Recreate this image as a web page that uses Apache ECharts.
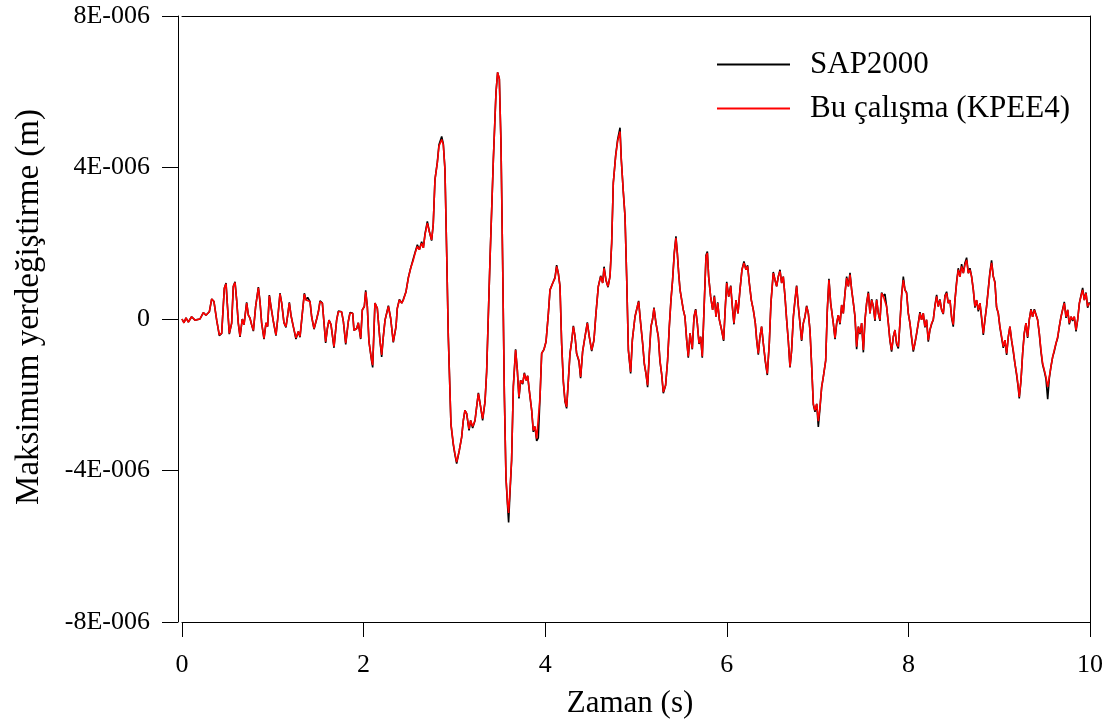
<!DOCTYPE html>
<html>
<head>
<meta charset="utf-8">
<script src="https://cdn.jsdelivr.net/npm/echarts@6/dist/echarts.min.js"></script>
<style>
html,body{margin:0;padding:0;background:#fff;}
#chart{width:1111px;height:724px;}
</style>
</head>
<body>
<div id="chart"></div>
<script>
// Time (s)
const time = [
0.000,0.022,0.044,0.070,0.106,0.143,0.198,0.235,0.264,0.301,
0.327,0.352,0.382,0.411,0.437,0.466,0.485,0.499,0.521,0.547,
0.565,0.584,0.602,0.620,0.639,0.664,0.683,0.712,0.731,0.749,
0.767,0.786,0.811,0.841,0.859,0.877,0.903,0.925,0.943,0.962,
0.980,1.006,1.035,1.054,1.079,1.098,1.123,1.145,1.164,1.182,
1.200,1.226,1.255,1.281,1.300,1.325,1.347,1.366,1.384,1.410,
1.428,1.454,1.483,1.502,1.520,1.546,1.564,1.582,1.601,1.619,
1.641,1.674,1.703,1.722,1.758,1.777,1.803,1.832,1.850,1.880,
1.894,1.924,1.942,1.968,1.986,2.008,2.023,2.041,2.059,2.089,
2.100,2.125,2.151,2.180,2.199,2.217,2.236,2.254,2.273,2.298,
2.327,2.357,2.371,2.394,2.420,2.438,2.467,2.493,2.518,2.548,
2.566,2.592,2.614,2.639,2.658,2.676,2.702,2.724,2.749,2.767,
2.786,2.812,2.830,2.860,2.878,2.896,2.915,2.933,2.962,2.988,
3.006,3.025,3.054,3.080,3.098,3.116,3.135,3.161,3.179,3.201,
3.227,3.245,3.264,3.289,3.311,3.337,3.355,3.392,3.429,3.458,
3.476,3.495,3.513,3.531,3.550,3.568,3.586,3.597,3.612,3.630,
3.649,3.674,3.693,3.711,3.729,3.752,3.770,3.789,3.807,3.825,
3.851,3.869,3.887,3.906,3.924,3.943,3.961,3.987,4.009,4.035,
4.053,4.072,4.090,4.108,4.126,4.145,4.163,4.181,4.200,4.218,
4.236,4.255,4.273,4.291,4.310,4.328,4.346,4.372,4.390,4.412,
4.438,4.464,4.486,4.512,4.537,4.559,4.585,4.611,4.633,4.648,
4.669,4.692,4.714,4.732,4.750,4.776,4.798,4.824,4.838,4.861,
4.879,4.897,4.916,4.941,4.960,4.989,5.015,5.029,5.051,5.073,
5.092,5.110,5.128,5.147,5.165,5.183,5.198,5.220,5.246,5.264,
5.282,5.301,5.326,5.348,5.367,5.385,5.403,5.422,5.440,5.455,
5.470,5.485,5.503,5.521,5.539,5.558,5.576,5.595,5.620,5.639,
5.657,5.675,5.694,5.712,5.730,5.749,5.771,5.786,5.800,5.822,
5.844,5.863,5.881,5.900,5.918,5.943,5.965,5.984,5.999,6.021,
6.043,6.061,6.079,6.101,6.123,6.145,6.167,6.189,6.211,6.229,
6.248,6.270,6.292,6.314,6.329,6.347,6.365,6.383,6.402,6.424,
6.446,6.468,6.486,6.512,6.531,6.549,6.567,6.586,6.604,6.622,
6.641,6.659,6.677,6.696,6.714,6.733,6.751,6.769,6.788,6.806,
6.824,6.843,6.861,6.879,6.898,6.916,6.935,6.953,6.971,6.990,
7.008,7.026,7.045,7.063,7.089,7.107,7.125,7.144,7.173,7.192,
7.210,7.228,7.247,7.265,7.283,7.302,7.320,7.339,7.357,7.375,
7.394,7.412,7.430,7.449,7.467,7.485,7.504,7.522,7.540,7.559,
7.577,7.595,7.614,7.632,7.650,7.669,7.687,7.705,7.724,7.742,
7.760,7.779,7.797,7.815,7.834,7.852,7.870,7.889,7.907,7.925,
7.944,7.962,7.980,7.999,8.017,8.035,8.054,8.072,8.090,8.109,
8.127,8.145,8.164,8.182,8.200,8.219,8.237,8.256,8.274,8.292,
8.311,8.329,8.347,8.366,8.384,8.403,8.421,8.439,8.458,8.476,
8.494,8.513,8.531,8.549,8.568,8.586,8.605,8.623,8.641,8.660,
8.678,8.696,8.715,8.733,8.751,8.770,8.788,8.806,8.825,8.843,
8.861,8.880,8.898,8.916,8.935,8.953,8.971,8.990,9.008,9.027,
9.045,9.063,9.082,9.100,9.118,9.137,9.155,9.173,9.192,9.210,
9.221,9.240,9.258,9.276,9.295,9.313,9.331,9.350,9.368,9.387,
9.405,9.423,9.442,9.460,9.478,9.497,9.515,9.534,9.552,9.570,
9.589,9.607,9.626,9.644,9.662,9.681,9.699,9.717,9.736,9.754,
9.772,9.791,9.809,9.827,9.846,9.864,9.883,9.901,9.919,9.938,
9.956,9.974,9.993
];

// SAP2000 displacement, in units of 1E-006 m
const sap2000 = [
0.00,-0.10,0.03,-0.08,0.06,-0.03,0.00,0.17,0.10,0.19,
0.53,0.46,-0.03,-0.44,-0.38,0.81,0.95,0.40,-0.40,-0.11,
0.86,0.98,0.50,-0.11,-0.47,0.00,-0.15,0.44,0.10,0.02,
-0.15,-0.32,0.33,0.84,0.46,-0.10,-0.53,-0.10,-0.20,0.63,
0.33,-0.06,-0.44,0.00,0.68,0.42,-0.10,-0.22,0.10,0.44,
0.10,-0.20,-0.53,-0.33,-0.48,0.15,0.68,0.50,0.57,0.46,
0.06,-0.27,0.00,0.19,0.48,0.42,-0.10,-0.63,-0.25,-0.03,
-0.15,-0.76,-0.03,0.21,0.19,-0.06,-0.67,-0.06,0.17,0.15,
-0.30,-0.25,-0.10,-0.53,0.24,0.33,0.76,0.33,-0.60,-1.12,
-1.28,0.42,0.28,-0.56,-1.00,-0.47,-0.03,-0.07,0.35,0.02,
-0.62,-0.20,0.28,0.52,0.42,0.52,0.72,1.10,1.34,1.60,
1.75,1.96,1.83,2.04,1.88,2.24,2.58,2.31,2.07,2.50,
3.68,4.14,4.60,4.82,4.62,3.95,1.74,-0.47,-2.78,-3.32,
-3.58,-3.82,-3.47,-3.12,-2.68,-2.41,-2.50,-2.94,-2.68,-2.88,
-2.68,-2.32,-1.95,-2.32,-2.68,-2.19,-1.40,1.56,4.21,5.98,
6.51,6.34,4.65,1.56,-1.97,-4.20,-4.95,-5.37,-4.60,-3.73,
-1.79,-0.80,-1.35,-2.10,-1.62,-1.72,-1.42,-1.62,-1.50,-1.90,
-2.41,-2.98,-2.84,-3.22,-3.14,-2.06,-0.91,-0.80,-0.60,0.15,
0.77,0.81,0.99,1.10,1.42,1.20,0.86,-0.64,-1.66,-2.18,
-2.36,-1.62,-0.91,-0.60,-0.18,-0.45,-0.91,-1.12,-1.56,-0.86,
-0.47,-0.09,-0.47,-0.85,-0.56,0.15,0.86,1.14,0.95,1.38,
1.03,0.84,1.14,2.00,3.59,4.32,4.74,5.05,4.21,3.33,
2.71,1.12,-0.82,-1.44,-0.55,0.06,0.33,0.48,-0.11,-0.64,
-1.20,-1.44,-1.80,-0.91,-0.20,0.00,0.30,-0.11,-0.47,-1.12,
-1.44,-1.96,-1.75,-1.09,-0.20,0.50,1.03,1.76,2.18,1.74,
1.20,0.77,0.74,0.24,0.06,-0.55,-1.02,-0.38,-0.80,0.06,
0.26,-0.11,-0.66,-0.47,-1.02,0.24,1.68,1.78,1.12,0.59,
0.24,0.62,0.06,0.44,-0.02,-0.29,-0.58,0.33,0.98,0.59,
0.88,0.33,-0.14,0.50,0.15,0.77,1.30,1.52,1.30,1.42,
0.95,0.50,0.24,-0.11,-0.55,-0.94,-0.47,-0.20,-0.64,-1.12,
-1.48,-0.64,0.42,1.24,1.03,0.86,1.12,1.30,0.95,1.12,
0.59,-0.02,-0.56,-1.28,-0.82,0.06,0.50,0.88,0.33,-0.11,
-0.58,-0.11,0.06,0.35,0.15,-0.29,-1.26,-2.26,-2.45,-2.24,
-2.85,-2.36,-1.79,-1.53,-1.10,0.24,1.06,0.42,-0.11,-0.53,
-0.12,0.10,-0.14,0.37,0.15,0.70,1.12,0.86,1.22,0.77,
0.42,0.06,-0.80,-0.20,-0.40,-0.11,-0.88,-0.02,0.42,0.72,
0.15,0.52,0.33,-0.05,0.52,0.15,-0.05,0.70,0.60,0.66,
0.33,-0.11,-0.58,-0.86,-0.47,-0.29,-0.66,-0.78,-0.11,0.62,
1.12,0.77,0.70,0.15,-0.11,-0.50,-0.86,-0.64,-0.40,-0.11,
0.18,-0.02,0.15,-0.22,-0.02,-0.60,-0.29,-0.13,-0.02,0.35,
0.64,0.33,0.52,0.24,0.13,0.62,0.72,0.42,0.50,0.03,
-0.20,0.50,0.98,1.34,1.12,1.45,1.21,1.48,1.62,1.21,
1.34,1.12,0.77,0.30,0.50,0.20,0.42,0.02,-0.42,-0.02,
0.33,0.80,1.24,1.55,1.12,0.98,0.30,0.15,-0.22,-0.50,
-0.76,-0.56,-0.95,-0.47,-0.20,-0.58,-0.86,-1.17,-1.48,-1.82,
-2.10,-1.62,-0.91,-0.38,-0.11,-0.50,-0.02,0.26,0.06,0.26,
0.24,-0.02,-0.40,-0.86,-1.20,-1.38,-1.58,-2.12,-1.56,-1.26,
-1.00,-0.85,-0.64,-0.50,-0.20,0.06,0.26,0.45,0.03,0.24,
-0.14,0.06,-0.05,0.06,-0.33,-0.02,0.42,0.62,0.82,0.50,
0.70,0.30,0.44
];

// Bu çalışma (KPEE4) displacement, in units of 1E-006 m
const kpee4 = [
0.00,-0.10,0.03,-0.08,0.06,-0.03,0.00,0.17,0.10,0.19,
0.53,0.46,-0.03,-0.42,-0.38,0.81,0.93,0.40,-0.38,-0.11,
0.86,0.96,0.50,-0.11,-0.45,0.00,-0.15,0.42,0.10,0.02,
-0.15,-0.30,0.33,0.82,0.46,-0.10,-0.51,-0.10,-0.20,0.61,
0.33,-0.06,-0.42,0.00,0.66,0.42,-0.10,-0.20,0.10,0.42,
0.10,-0.20,-0.50,-0.33,-0.46,0.15,0.66,0.50,0.55,0.46,
0.06,-0.25,0.00,0.19,0.46,0.42,-0.10,-0.60,-0.25,-0.03,
-0.15,-0.73,-0.03,0.19,0.19,-0.06,-0.64,-0.06,0.15,0.15,
-0.30,-0.25,-0.10,-0.51,0.24,0.33,0.72,0.33,-0.60,-1.09,
-1.22,0.42,0.28,-0.56,-0.95,-0.47,-0.03,-0.07,0.33,0.02,
-0.60,-0.20,0.28,0.50,0.42,0.50,0.72,1.08,1.34,1.56,
1.73,1.92,1.83,2.00,1.88,2.22,2.53,2.31,2.09,2.50,
3.68,4.12,4.56,4.74,4.60,3.95,1.74,-0.47,-2.76,-3.29,
-3.56,-3.78,-3.47,-3.12,-2.68,-2.41,-2.50,-2.90,-2.68,-2.84,
-2.68,-2.32,-1.97,-2.32,-2.63,-2.19,-1.40,1.56,4.21,5.98,
6.51,6.34,4.65,1.56,-1.97,-4.18,-4.88,-5.12,-4.53,-3.73,
-1.79,-0.82,-1.35,-2.06,-1.62,-1.70,-1.44,-1.62,-1.50,-1.88,
-2.41,-2.94,-2.84,-3.16,-3.12,-2.06,-0.91,-0.80,-0.60,0.15,
0.77,0.79,0.99,1.07,1.39,1.20,0.86,-0.64,-1.66,-2.15,
-2.32,-1.62,-0.91,-0.60,-0.20,-0.45,-0.91,-1.09,-1.53,-0.86,
-0.47,-0.11,-0.47,-0.82,-0.56,0.15,0.86,1.12,0.95,1.34,
1.03,0.86,1.12,2.00,3.59,4.30,4.70,4.95,4.21,3.33,
2.71,1.12,-0.82,-1.40,-0.55,0.06,0.33,0.46,-0.11,-0.64,
-1.17,-1.44,-1.75,-0.91,-0.20,0.00,0.28,-0.11,-0.47,-1.09,
-1.44,-1.93,-1.75,-1.09,-0.20,0.50,1.03,1.74,2.14,1.74,
1.20,0.77,0.72,0.24,0.06,-0.55,-0.99,-0.38,-0.78,0.06,
0.24,-0.11,-0.64,-0.47,-0.99,0.24,1.65,1.74,1.12,0.59,
0.24,0.59,0.06,0.42,-0.02,-0.29,-0.55,0.33,0.95,0.59,
0.86,0.33,-0.11,0.50,0.15,0.77,1.30,1.48,1.30,1.39,
0.95,0.50,0.24,-0.11,-0.55,-0.91,-0.47,-0.20,-0.64,-1.09,
-1.44,-0.64,0.42,1.21,1.03,0.86,1.12,1.26,0.95,1.12,
0.59,-0.02,-0.56,-1.26,-0.82,0.06,0.50,0.86,0.33,-0.11,
-0.55,-0.11,0.06,0.33,0.15,-0.29,-1.26,-2.24,-2.41,-2.24,
-2.70,-2.32,-1.79,-1.53,-1.10,0.24,1.03,0.42,-0.11,-0.50,
-0.10,0.10,-0.11,0.37,0.15,0.68,1.08,0.86,1.17,0.77,
0.42,0.06,-0.73,-0.20,-0.38,-0.11,-0.82,-0.02,0.42,0.68,
0.15,0.50,0.33,-0.02,0.50,0.15,-0.02,0.68,0.60,0.64,
0.33,-0.11,-0.56,-0.82,-0.47,-0.29,-0.64,-0.73,-0.11,0.60,
1.03,0.77,0.68,0.15,-0.11,-0.47,-0.82,-0.64,-0.38,-0.11,
0.15,-0.02,0.15,-0.20,-0.02,-0.56,-0.29,-0.11,-0.02,0.33,
0.60,0.33,0.50,0.24,0.15,0.60,0.68,0.42,0.50,0.06,
-0.15,0.50,0.95,1.30,1.12,1.39,1.21,1.43,1.56,1.21,
1.30,1.12,0.77,0.33,0.50,0.24,0.42,0.06,-0.38,-0.02,
0.33,0.77,1.21,1.48,1.12,0.95,0.33,0.15,-0.20,-0.47,
-0.73,-0.56,-0.91,-0.47,-0.20,-0.56,-0.82,-1.17,-1.44,-1.79,
-2.06,-1.62,-0.91,-0.38,-0.11,-0.47,-0.02,0.24,0.06,0.24,
0.24,-0.02,-0.38,-0.82,-1.17,-1.35,-1.53,-1.79,-1.53,-1.26,
-1.00,-0.82,-0.64,-0.47,-0.20,0.06,0.24,0.42,0.06,0.24,
-0.11,0.06,-0.02,0.06,-0.29,-0.02,0.42,0.60,0.77,0.50,
0.68,0.33,0.42
];

const seriesNames = ['SAP2000', 'Bu çalışma (KPEE4)'];
const xTicks = [0, 2, 4, 6, 8, 10];
const yTickValues = [-8, -4, 0, 4, 8];
const yTickLabels = ['-8E-006', '-4E-006', '0', '4E-006', '8E-006'];
const xTitle = 'Zaman (s)';
const yTitle = 'Maksimum yerdeğiştirme (m)';

const FONT = "'Liberation Serif', 'Times New Roman', serif";
const chart = echarts.init(document.getElementById('chart'), null, {renderer: 'canvas'});

const blackData = time.map((t, i) => [t, sap2000[i]]);
const redData = time.map((t, i) => [t, kpee4[i]]);

const axisLineStyle = {color: '#000', width: 1};

const option = {
  backgroundColor: '#fff',
  animation: false,
  grid: {left: 182, right: 21, top: 16, bottom: 102, containLabel: false},
  legend: {
    orient: 'vertical',
    left: 717,
    top: 49,
    padding: 0,
    itemGap: 13,
    itemWidth: 73,
    itemHeight: 2,
    icon: 'rect',
    textStyle: {fontSize: 31, lineHeight: 31, color: '#000', fontFamily: FONT, padding: [0, 0, 0, 15]},
    data: seriesNames
  },
  xAxis: [
    {
      type: 'value', min: xTicks[0], max: xTicks[xTicks.length - 1], interval: 2,
      position: 'bottom',
      axisLine: {show: true, onZero: false, lineStyle: axisLineStyle},
      axisTick: {show: true, length: 15, lineStyle: axisLineStyle},
      axisLabel: {margin: 30, fontSize: 26, color: '#000', fontFamily: FONT},
      splitLine: {show: false},
      name: xTitle, nameLocation: 'middle', nameGap: 66,
      nameTextStyle: {fontSize: 31, color: '#000', fontFamily: FONT, padding: [0, 12, 0, 0]}
    },
    {
      type: 'value', min: 0, max: 10, position: 'top',
      axisLine: {show: true, onZero: false, lineStyle: axisLineStyle},
      axisTick: {show: false}, axisLabel: {show: false}, splitLine: {show: false}
    }
  ],
  yAxis: [
    {
      type: 'value', min: yTickValues[0], max: yTickValues[yTickValues.length - 1], interval: 4,
      offset: 4,
      axisLine: {show: true, onZero: false, lineStyle: axisLineStyle},
      axisTick: {show: true, length: 16, lineStyle: axisLineStyle},
      axisLabel: {
        margin: 28, fontSize: 26, color: '#000', fontFamily: FONT,
        formatter: v => { const k = yTickValues.indexOf(v); return k >= 0 ? yTickLabels[k] : ''; }
      },
      splitLine: {show: false},
      name: yTitle, nameLocation: 'middle', nameGap: 132, nameRotate: 90,
      nameTextStyle: {fontSize: 33, color: '#000', fontFamily: FONT, padding: [0, 0, 0, 24]}
    },
    {
      type: 'value', min: -8, max: 8, position: 'right',
      axisLine: {show: true, onZero: false, lineStyle: axisLineStyle},
      axisTick: {show: false}, axisLabel: {show: false}, splitLine: {show: false}
    }
  ],
  series: [
    {
      name: seriesNames[0], type: 'line', data: blackData,
      symbol: 'none', showSymbol: false,
      lineStyle: {color: '#000', width: 1.6},
      itemStyle: {color: '#000'}, z: 2
    },
    {
      name: seriesNames[1], type: 'line', data: redData,
      symbol: 'none', showSymbol: false,
      lineStyle: {color: '#ff0000', width: 1.6},
      itemStyle: {color: '#ff0000'}, z: 3
    }
  ]
};
chart.setOption(option);
</script>
</body>
</html>
